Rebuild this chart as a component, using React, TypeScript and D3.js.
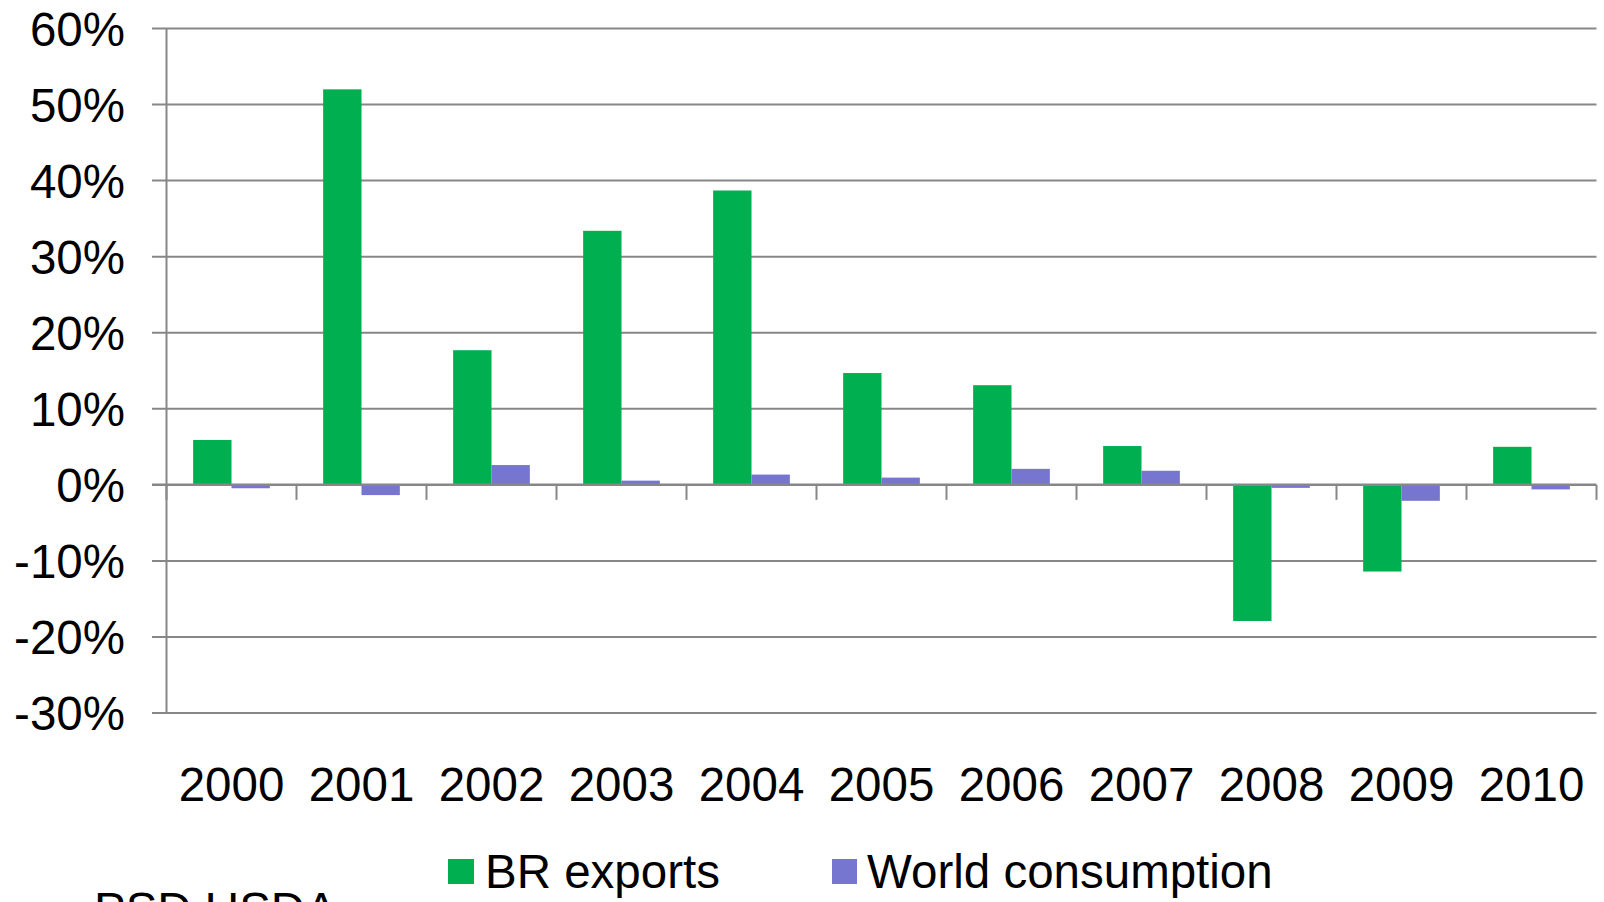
import * as React from 'react';
import * as d3 from 'd3';

const years = ['2000', '2001', '2002', '2003', '2004', '2005', '2006', '2007', '2008', '2009', '2010'];
const brExports = [5.9, 52.0, 17.7, 33.4, 38.7, 14.7, 13.1, 5.1, -17.9, -11.4, 5.0];
const worldConsumption = [-0.45, -1.35, 2.6, 0.55, 1.35, 0.95, 2.1, 1.85, -0.4, -2.1, -0.6];
const yTicks = [-30, -20, -10, 0, 10, 20, 30, 40, 50, 60];
const seriesNames = ['BR exports', 'World consumption'];
const colors = ['#00B050', '#7676D0'];

const W = 1604, H = 902;
const FONT = '"Liberation Sans", Arial, sans-serif';
const FS = 47.5;

export default function App() {
  const left = 166.5, right = 1596.5, top = 28.5, bottom = 713;

  const y = d3.scaleLinear().domain([-30, 60]).range([bottom, top]);
  const x0 = d3.scaleBand<string>()
    .domain(years)
    .range([left, right])
    .paddingInner(0.41)
    .paddingOuter(0.205);
  const x1 = d3.scaleBand<string>()
    .domain(seriesNames)
    .range([0, x0.bandwidth()]);
  const step = x0.step();

  const rows = years.map((yr, i) => ({ yr, vals: [brExports[i], worldConsumption[i]] }));
  const y0 = y(0);
  const gridColor = '#878787';

  return (
    <svg width={W} height={H} style={{ position: 'absolute', left: 0, top: 0, background: '#fff' }}>
      {/* gridlines + y labels */}
      {yTicks.map(t => (
        <g key={t}>
          {t !== 0 && (
            <line x1={152} x2={right} y1={y(t)} y2={y(t)} stroke={gridColor} strokeWidth={2} />
          )}
          <text x={125} y={y(t)} dy="0.36em" textAnchor="end" fontFamily={FONT} fontSize={FS} fill="#000">
            {t}%
          </text>
        </g>
      ))}
      {/* y axis */}
      <line x1={left} x2={left} y1={top} y2={bottom} stroke={gridColor} strokeWidth={2} />

      {/* bars */}
      {rows.map(r => (
        <g key={r.yr} transform={`translate(${x0(r.yr)},0)`}>
          {r.vals.map((v, j) => (
            <rect
              key={j}
              x={x1(seriesNames[j])}
              y={Math.min(y(v), y0)}
              width={x1.bandwidth()}
              height={Math.abs(y(v) - y0)}
              fill={colors[j]}
            />
          ))}
        </g>
      ))}

      {/* zero axis + category ticks */}
      <line x1={152} x2={right} y1={y0} y2={y0} stroke={gridColor} strokeWidth={2.5} />
      {d3.range(years.length + 1).map(i => (
        <line key={i} x1={left + i * step} x2={left + i * step} y1={y0} y2={y0 + 15} stroke={gridColor} strokeWidth={2} />
      ))}

      {/* year labels */}
      {years.map(yr => (
        <text key={yr} x={(x0(yr) || 0) + x0.bandwidth() / 2} y={801} textAnchor="middle" fontFamily={FONT} fontSize={FS} fill="#000">
          {yr}
        </text>
      ))}

      {/* legend */}
      <rect x={448} y={859} width={26} height={25} fill={colors[0]} />
      <text x={485} y={888} fontFamily={FONT} fontSize={FS} fill="#000">{seriesNames[0]}</text>
      <rect x={832} y={859} width={25} height={25} fill={colors[1]} />
      <text x={867} y={888} fontFamily={FONT} fontSize={FS} fill="#000">{seriesNames[1]}</text>

      {/* source note, cut off at the bottom as in the original */}
      <text x={94} y={926} fontFamily={FONT} fontSize={FS} fill="#000">PSD USDA</text>
    </svg>
  );
}
